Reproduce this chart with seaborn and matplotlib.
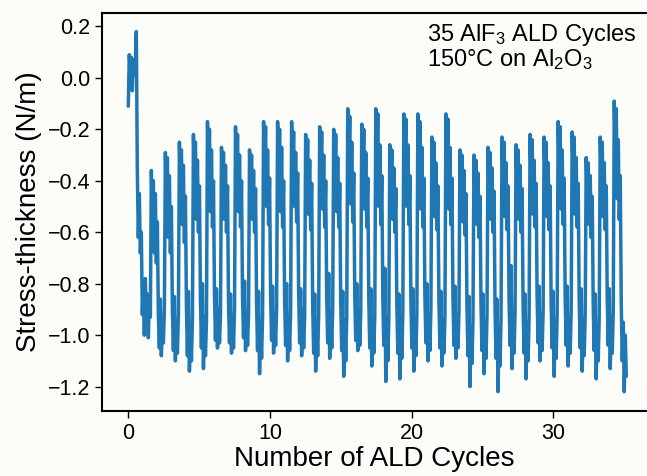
import seaborn as sns
import matplotlib.pyplot as plt
import numpy as np
import pandas as pd

# stress-thickness trace (N/m), one sample every sample_step cycles
sample_step = 0.0707

startup = [-0.11, 0.09, 0.02, 0.08, -0.05, 0.07, 0.01, 0.06, 0.18,
           -0.36, -0.62, -0.45, -0.68, -0.60, -0.92, -0.80, -1.00, -0.78,
           -0.96, -0.84, -1.01, -0.86, -0.93]

cycles_01_07 = [
    -0.36, -0.55, -0.40, -0.68, -0.45, -0.72, -0.56, -0.92, -1.05, -0.86, -1.08, -0.94, -1.03, -0.90,
    -0.29, -0.48, -0.31, -0.62, -0.38, -0.68, -0.50, -0.90, -1.06, -0.85, -1.10, -0.95, -1.07, -0.92,
    -0.25, -0.43, -0.28, -0.57, -0.34, -0.64, -0.46, -0.88, -1.08, -0.83, -1.14, -0.96, -1.10, -0.94,
    -0.22, -0.40, -0.25, -0.55, -0.32, -0.60, -0.42, -0.86, -1.05, -0.80, -1.13, -0.93, -1.08, -0.95,
    -0.17, -0.36, -0.20, -0.52, -0.28, -0.58, -0.40, -0.84, -1.02, -0.82, -1.05, -0.90, -1.03, -0.92,
    -0.27, -0.42, -0.29, -0.55, -0.34, -0.60, -0.42, -0.87, -1.03, -0.84, -1.07, -0.93, -1.05, -0.90,
    -0.19, -0.38, -0.22, -0.52, -0.30, -0.58, -0.40, -0.85, -1.01, -0.79, -1.06, -0.91, -1.04, -0.92,
]

cycles_08_14 = [
    -0.28, -0.44, -0.30, -0.55, -0.36, -0.60, -0.43, -0.87, -1.06, -0.83, -1.15, -0.95, -1.09, -0.93,
    -0.17, -0.35, -0.19, -0.50, -0.28, -0.57, -0.39, -0.84, -1.02, -0.81, -1.07, -0.92, -1.04, -0.90,
    -0.17, -0.37, -0.20, -0.52, -0.27, -0.58, -0.40, -0.86, -1.04, -0.80, -1.10, -0.93, -1.06, -0.91,
    -0.17, -0.34, -0.21, -0.50, -0.29, -0.56, -0.37, -0.83, -1.03, -0.82, -1.08, -0.90, -1.05, -0.93,
    -0.22, -0.39, -0.24, -0.53, -0.32, -0.59, -0.41, -0.88, -1.07, -0.84, -1.14, -0.96, -1.08, -0.92,
    -0.19, -0.36, -0.21, -0.51, -0.30, -0.58, -0.40, -0.85, -1.03, -0.76, -1.09, -0.91, -1.05, -0.90,
    -0.20, -0.38, -0.22, -0.52, -0.31, -0.58, -0.41, -0.87, -1.06, -0.83, -1.16, -0.94, -1.10, -0.93,
]

cycles_15_21 = [
    -0.12, -0.32, -0.15, -0.49, -0.25, -0.56, -0.37, -0.84, -1.02, -0.80, -1.06, -0.90, -1.04, -0.91,
    -0.18, -0.37, -0.20, -0.51, -0.29, -0.58, -0.39, -0.86, -1.05, -0.82, -1.12, -0.94, -1.07, -0.92,
    -0.12, -0.31, -0.14, -0.50, -0.26, -0.57, -0.38, -0.85, -1.04, -0.74, -1.18, -0.93, -1.10, -0.94,
    -0.26, -0.42, -0.28, -0.55, -0.35, -0.60, -0.43, -0.88, -1.07, -0.84, -1.17, -0.96, -1.09, -0.91,
    -0.14, -0.33, -0.16, -0.50, -0.26, -0.57, -0.38, -0.85, -1.05, -0.82, -1.14, -0.93, -1.08, -0.92,
    -0.14, -0.34, -0.17, -0.51, -0.27, -0.58, -0.39, -0.84, -1.03, -0.80, -1.10, -0.92, -1.06, -0.90,
    -0.23, -0.40, -0.25, -0.54, -0.33, -0.59, -0.42, -0.87, -1.05, -0.83, -1.12, -0.94, -1.07, -0.93,
]

cycles_22_28 = [
    -0.14, -0.33, -0.16, -0.51, -0.27, -0.57, -0.39, -0.85, -1.04, -0.81, -1.09, -0.92, -1.05, -0.91,
    -0.28, -0.44, -0.30, -0.56, -0.36, -0.61, -0.45, -0.89, -1.08, -0.85, -1.20, -0.97, -1.11, -0.94,
    -0.30, -0.45, -0.32, -0.57, -0.37, -0.62, -0.46, -0.88, -1.06, -0.84, -1.15, -0.95, -1.09, -0.92,
    -0.27, -0.43, -0.29, -0.55, -0.35, -0.60, -0.44, -0.89, -1.09, -0.86, -1.22, -0.98, -1.12, -0.93,
    -0.23, -0.40, -0.25, -0.54, -0.33, -0.59, -0.42, -0.86, -1.04, -0.73, -1.13, -0.93, -1.07, -0.91,
    -0.26, -0.42, -0.28, -0.55, -0.34, -0.60, -0.43, -0.88, -1.07, -0.84, -1.17, -0.95, -1.10, -0.93,
    -0.22, -0.39, -0.24, -0.53, -0.32, -0.58, -0.41, -0.85, -1.03, -0.81, -1.10, -0.92, -1.06, -0.91,
]

cycles_29_34 = [
    -0.23, -0.40, -0.25, -0.54, -0.33, -0.59, -0.42, -0.87, -1.05, -0.83, -1.16, -0.94, -1.09, -0.92,
    -0.17, -0.35, -0.19, -0.51, -0.28, -0.57, -0.39, -0.85, -1.04, -0.81, -1.12, -0.93, -1.07, -0.91,
    -0.21, -0.38, -0.23, -0.53, -0.31, -0.58, -0.41, -0.86, -1.05, -0.82, -1.14, -0.94, -1.08, -0.92,
    -0.31, -0.46, -0.33, -0.57, -0.38, -0.62, -0.46, -0.88, -1.06, -0.84, -1.17, -0.96, -1.10, -0.93,
    -0.23, -0.40, -0.25, -0.54, -0.33, -0.59, -0.42, -0.86, -1.04, -0.82, -1.13, -0.93, -1.07, -0.91,
    -0.09, -0.28, -0.12, -0.47, -0.24, -0.55, -0.38, -0.88, -1.10, -0.95, -1.22, -1.00, -1.16,
]

x_ticks = [0, 10, 20, 30]
y_ticks = [0.2, 0.0, -0.2, -0.4, -0.6, -0.8, -1.0, -1.2]

stress = np.array(startup + cycles_01_07 + cycles_08_14 + cycles_15_21
                  + cycles_22_28 + cycles_29_34)
df = pd.DataFrame({"cycles": np.arange(len(stress)) * sample_step,
                   "stress": stress})

sns.set_style("ticks")
plt.rcParams["font.family"] = ["Liberation Sans", "DejaVu Sans"]
plt.rcParams["mathtext.fontset"] = "custom"
plt.rcParams["mathtext.rm"] = "Liberation Sans"
plt.rcParams["mathtext.it"] = "Liberation Sans"
plt.rcParams["text.color"] = "black"
plt.rcParams["axes.labelcolor"] = "black"
plt.rcParams["xtick.color"] = "black"
plt.rcParams["ytick.color"] = "black"

bg = "#fcfcf9"
fig = plt.figure(figsize=(6.47, 4.76), dpi=100, facecolor=bg)
ax = fig.add_axes([0.158, 0.137, 0.842, 0.835], facecolor=bg)

sns.lineplot(data=df, x="cycles", y="stress", color="#1f77b4",
             linewidth=2.5, estimator=None, ax=ax)

ax.set_xlim(-1.84, 36.6)
ax.set_ylim(-1.294, 0.251)
ax.set_xticks(x_ticks)
ax.set_yticks(y_ticks)
ax.tick_params(labelsize=15.5, width=1, length=5, color="black",
               labelcolor="black")
ax.set_xlabel("Number of ALD Cycles", fontsize=20, labelpad=2)
ax.set_ylabel("Stress-thickness (N/m)", fontsize=20, labelpad=4)

for side in ["left", "top", "bottom"]:
    ax.spines[side].set_linewidth(1.5)
    ax.spines[side].set_color("black")
ax.spines["right"].set_visible(False)

ax.text(0.596, 0.866, "35 AlF$_3$ ALD Cycles\n150°C on Al$_2$O$_3$",
        transform=ax.transAxes, fontsize=17, va="baseline", ha="left",
        linespacing=1.0)

fig.savefig("out.png", dpi=100, facecolor=bg)
